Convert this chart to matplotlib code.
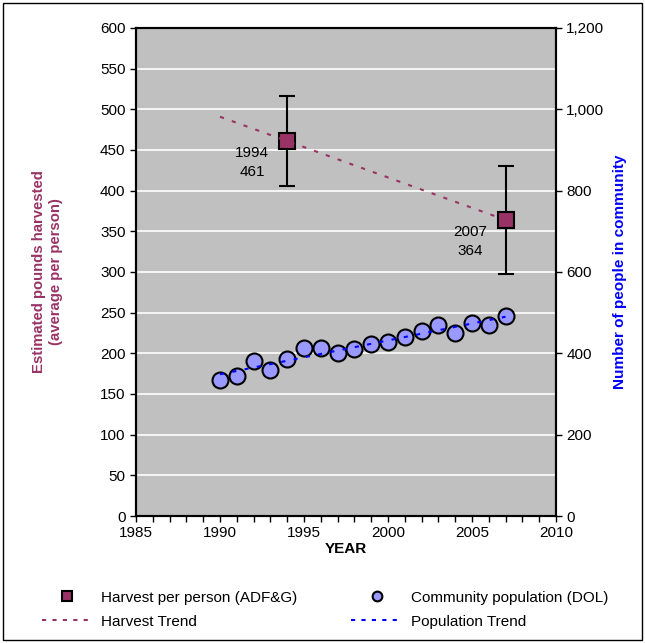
import numpy as np
import matplotlib.pyplot as plt
from matplotlib.patches import Rectangle
from matplotlib.ticker import FuncFormatter, MultipleLocator

plt.rcParams['font.family'] = ['Liberation Sans', 'DejaVu Sans']
plt.rcParams['font.size'] = 11

# harvest survey (ADF&G)
harvest_years = [1994, 2007]
harvest_lbs = [461, 364]
harvest_err_low = [55, 66]
harvest_err_high = [55, 66]

# community population (DOL)
pop_years = list(range(1990, 2008))
pop_people = [334, 344, 381, 360, 385, 414, 412, 401, 411, 424,
              429, 439, 456, 469, 451, 475, 470, 491]

harvest_col = '#993366'
pop_col = '#9999FF'

fig = plt.figure(figsize=(6.45, 6.43), dpi=100)
ax = fig.add_axes([0.2109, 0.1975, 0.651, 0.759])
ax2 = ax.twinx()

ax.set_facecolor('#C0C0C0')
ax.set_zorder(ax2.get_zorder() - 1)
ax2.patch.set_visible(False)

# trend lines (least squares) from first population year to last survey
tx = np.array([1990, 2007])
hc = np.polyfit(harvest_years, harvest_lbs, 1)
pc = np.polyfit(pop_years, pop_people, 1)

ax2.plot(pop_years, pop_people, 'o', ms=11.5, mfc=pop_col, mec='black', mew=1.5, zorder=3)
ax2.plot(tx, np.polyval(pc, tx), color='blue', ls=(0, (2, 4)), lw=1.5, zorder=4)

ax2.set_ylim(0, 1200)
ax2.yaxis.set_major_locator(MultipleLocator(200))
ax2.yaxis.set_major_formatter(FuncFormatter(lambda v, p: f'{int(v):,}'))
ax2.set_ylabel('Number of people in community', color='blue', fontweight='bold',
               fontsize=11, labelpad=6)

# harvest drawn on a top-level overlay so it sits above the population points
ax3 = fig.add_axes(ax.get_position(), sharex=ax)
ax3.patch.set_visible(False)
ax3.axis('off')
ax3.set_ylim(0, 600)
ax3.errorbar(harvest_years, harvest_lbs, yerr=[harvest_err_low, harvest_err_high],
             fmt='s', ms=11.5, mfc=harvest_col, mec='black', mew=1.5,
             ecolor='black', elinewidth=1.5, capsize=6, capthick=1.5, zorder=3)
ax3.plot(tx, np.polyval(hc, tx), color=harvest_col, ls=(0, (2, 4)), lw=1.5, zorder=4)
for yr, val in zip(harvest_years, harvest_lbs):
    ax3.text(yr - 2.1, val - 6, f'{yr}\n{val}', ha='center', va='top',
             fontsize=11, linespacing=1.5)

ax.set_xlim(1985, 2010)
ax.set_ylim(0, 600)
ax.xaxis.set_major_locator(MultipleLocator(5))
ax.xaxis.set_minor_locator(MultipleLocator(1))
ax.yaxis.set_major_locator(MultipleLocator(50))
ax.grid(axis='y', color='white', lw=1.2)
ax.set_axisbelow(True)
ax.tick_params(which='both', direction='out', length=4, width=1)
ax2.tick_params(direction='out', length=4, width=1)
for a in (ax, ax2):
    for s in a.spines.values():
        s.set_linewidth(1.5)

ax.set_xlabel('YEAR', fontweight='bold', fontsize=11, labelpad=1)
ax.set_ylabel('Estimated pounds harvested\n(average per person)', color=harvest_col,
              fontweight='bold', fontsize=10.7, labelpad=27)

# legend, one column of entries per data source
h1 = plt.Line2D([], [], ls='none', marker='s', ms=7, mfc=harvest_col, mec='black', mew=1.5)
h2 = plt.Line2D([], [], color=harvest_col, ls=(0, (2, 3)), lw=1.5)
h3 = plt.Line2D([], [], ls='none', marker='o', ms=7, mfc=pop_col, mec='black', mew=1.5)
h4 = plt.Line2D([], [], color='blue', ls=(0, (2, 3)), lw=1.5)
leg_kw = dict(loc='upper left', frameon=False, fontsize=11, borderpad=0,
              handlelength=3.3, handletextpad=0.6, labelspacing=0.65)
fig.legend([h1, h2], ['Harvest per person (ADF&G)', 'Harvest Trend'],
           bbox_to_anchor=(0.0527, 0.093), **leg_kw)
fig.legend([h3, h4], ['Community population (DOL)', 'Population Trend'],
           bbox_to_anchor=(0.533, 0.093), **leg_kw)

fig.patches.append(Rectangle((0.004, 0.004), 0.992, 0.992, transform=fig.transFigure,
                             fill=False, edgecolor='black', lw=1))

fig.savefig('out.png', dpi=100)
